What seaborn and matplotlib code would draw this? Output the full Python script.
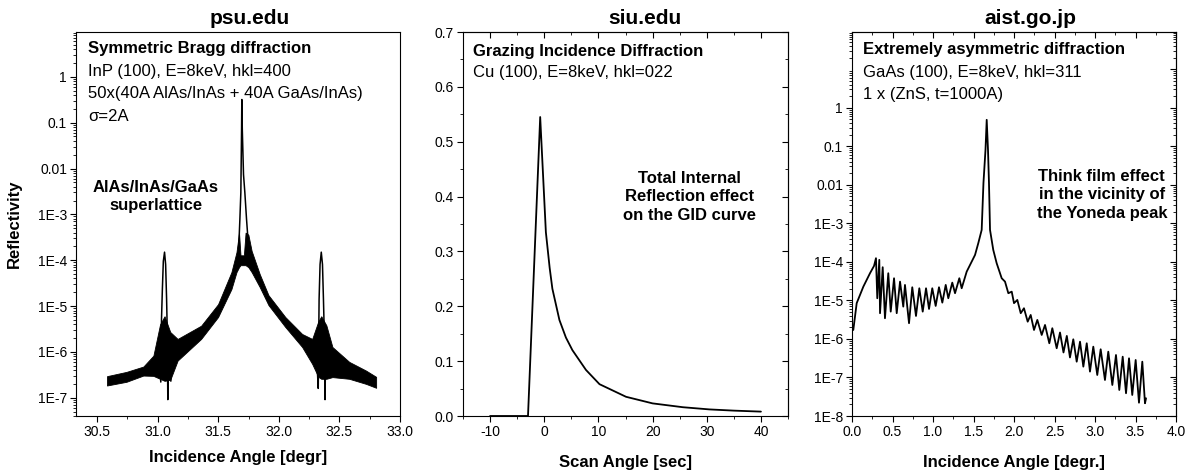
import numpy as np
import matplotlib
matplotlib.use("Agg")
import matplotlib.pyplot as plt
import seaborn as sns
from matplotlib.ticker import (FixedLocator, MultipleLocator, LogLocator,
                               FuncFormatter, FormatStrFormatter, NullFormatter)

# ---- panel 1: psu.edu, symmetric Bragg (oscillation band + spikes) ----
band_x = [30.581, 30.742, 30.881, 30.964, 31.019, 31.056, 31.103, 31.164, 31.358, 31.498,
          31.608, 31.650, 31.671, 31.683, 31.711, 31.725, 31.748, 31.775, 31.842, 31.914,
          32.053, 32.192, 32.275, 32.325, 32.350, 32.392, 32.442, 32.581, 32.719, 32.803]
band_hi = [2.96e-7, 3.67e-7, 4.79e-7, 8.3e-7, 4.0e-6, 6.0e-6, 2.72e-6, 1.92e-6, 3.73e-6, 1.10e-5,
           5.48e-5, 1.5e-4, 4.0e-4, 1.28e-4, 1.28e-4, 4.0e-4, 3.6e-4, 1.6e-4, 4.96e-5, 1.73e-5,
           5.77e-6, 2.46e-6, 1.92e-6, 4.6e-6, 6.0e-6, 3.8e-6, 1.28e-6, 6.06e-7, 3.92e-7, 2.86e-7]
band_lo = [1.85e-7, 2.23e-7, 3.05e-7, 3.0e-7, 2.59e-7, 2.34e-7, 2.46e-7, 6.47e-7, 1.92e-6, 5.77e-6,
           2.34e-5, 5.5e-5, 7.05e-5, 7.79e-5, 7.79e-5, 7.79e-5, 7.05e-5, 5.5e-5, 2.59e-5, 1.05e-5,
           3.49e-6, 1.28e-6, 5.48e-7, 2.86e-7, 2.59e-7, 2.59e-7, 2.82e-7, 2.59e-7, 2.01e-7, 1.65e-7]

sat1_x = [31.004, 31.025, 31.031, 31.038, 31.046, 31.056, 31.065, 31.073, 31.078, 31.083,
          31.088, 31.100, 31.108, 31.117]
sat1_y = [1.5e-6, 2.2e-7, 5.2e-6, 2.3e-5, 9.5e-5, 1.5e-4, 8.1e-5, 1.4e-5, 3.2e-6, 9.1e-8,
          1.5e-6, 1.9e-6, 2.3e-7, 1.5e-6]
sat2_x = [32.292, 32.317, 32.325, 32.332, 32.340, 32.350, 32.360, 32.368, 32.375, 32.381,
          32.387, 32.400, 32.417]
sat2_y = [1.5e-6, 4.3e-7, 1.6e-7, 1.4e-5, 8.1e-5, 1.5e-4, 8.1e-5, 1.4e-5, 2.5e-6, 9.1e-8,
          1.5e-6, 1.9e-6, 1.5e-6]
main_x = [31.664, 31.678, 31.686, 31.692, 31.694, 31.698, 31.708, 31.719, 31.733, 31.758]
main_y = [9.5e-5, 7.8e-4, 3.0e-3, 0.071, 0.32, 0.071, 7.4e-3, 3.0e-3, 7.8e-4, 9.5e-5]

# ---- panel 2: siu.edu, grazing incidence diffraction ----
gid_x = [-10, -3.0, -0.75, 0.3, 1.0, 1.5, 2.8, 4.0, 5.2, 7.7,
         10.2, 15.1, 20.0, 25.6, 30.5, 35.0, 40.0]
gid_y = [0.0, 0.0, 0.545, 0.335, 0.27, 0.232, 0.175, 0.143, 0.12, 0.084,
         0.058, 0.035, 0.023, 0.016, 0.012, 0.0098, 0.008]

# ---- panel 3: aist.go.jp, extremely asymmetric diffraction ----
ga_x = [0.016, 0.058, 0.140, 0.222, 0.272, 0.296, 0.312, 0.337, 0.346, 0.379,
        0.407, 0.448, 0.478, 0.519, 0.552, 0.593, 0.633, 0.654, 0.704, 0.744,
        0.790, 0.831, 0.873, 0.914, 0.951, 0.991, 1.033, 1.074, 1.115, 1.157,
        1.189, 1.238, 1.272, 1.325, 1.354, 1.416, 1.478, 1.519, 1.559, 1.601,
        1.623, 1.648, 1.663, 1.679, 1.691, 1.704, 1.744, 1.786, 1.848, 1.889,
        1.930, 1.972, 2.000, 2.041, 2.083, 2.123, 2.169, 2.206, 2.247, 2.288,
        2.342, 2.383, 2.436, 2.473, 2.527, 2.568, 2.611, 2.652, 2.691, 2.732,
        2.774, 2.815, 2.856, 2.898, 2.938, 2.979, 3.028, 3.070, 3.123, 3.164,
        3.214, 3.259, 3.300, 3.342, 3.383, 3.420, 3.460, 3.502, 3.543, 3.584,
        3.617, 3.630]
ga_y = [1.71e-6, 8.5e-6, 2.28e-5, 5.08e-5, 7.87e-5, 1.25e-4, 1.14e-5, 1.13e-4, 4.66e-6, 7.28e-5,
        3.45e-6, 5.08e-5, 5.12e-6, 3.77e-5, 4.66e-6, 3.08e-5, 6.90e-6, 2.53e-5, 2.56e-6, 2.20e-5,
        3.95e-6, 2.07e-5, 5.12e-6, 2.07e-5, 6.01e-6, 2.07e-5, 7.20e-6, 2.20e-5, 8.77e-6, 2.53e-5,
        1.14e-5, 2.90e-5, 1.54e-5, 3.77e-5, 2.07e-5, 5.60e-5, 1.02e-4, 1.52e-4, 3.06e-4, 6.78e-4,
        1.13e-2, 8.1e-2, 0.488, 8.1e-2, 1.13e-2, 6.78e-4, 2.05e-4, 9.25e-5, 3.77e-5, 3.08e-5,
        1.54e-5, 1.69e-5, 8.5e-6, 1.03e-5, 4.66e-6, 6.27e-6, 2.81e-6, 4.20e-6, 1.71e-6, 3.12e-6,
        1.27e-6, 2.31e-6, 7.73e-7, 1.90e-6, 5.73e-7, 1.47e-6, 4.46e-7, 1.20e-6, 3.31e-7, 9.8e-7,
        2.57e-7, 8.5e-7, 1.91e-7, 7.73e-7, 1.42e-7, 6.31e-7, 1.16e-7, 5.40e-7, 8.6e-8, 4.68e-7,
        6.38e-8, 3.84e-7, 4.73e-8, 3.47e-7, 3.89e-8, 3.15e-7, 3.51e-8, 2.85e-7, 2.21e-8, 2.57e-7,
        2.14e-8, 2.88e-8]

sns.set_theme(style="ticks")
plt.rcParams["font.family"] = ["Liberation Sans", "DejaVu Sans"]
plt.rcParams["axes.unicode_minus"] = False
plt.rcParams["axes.linewidth"] = 0.8
plt.rcParams["text.color"] = "black"
plt.rcParams["axes.labelcolor"] = "black"
plt.rcParams["xtick.color"] = "black"
plt.rcParams["ytick.color"] = "black"


def log_label(v, pos):
    if v >= 0.01:
        return "%g" % v
    return "1E%d" % round(np.log10(v))


def style_axis(ax):
    ax.tick_params(which="both", direction="out", labelsize=10, colors="black", pad=2.5)
    ax.tick_params(which="major", length=4, width=0.8)
    ax.tick_params(which="minor", length=2.5, width=0.6)
    for s in ax.spines.values():
        s.set_color("black")


def inner_ticks(ax):
    top = ax.secondary_xaxis("top")
    right = ax.secondary_yaxis("right")
    for sa in (top, right):
        sa.tick_params(which="both", direction="in", labelsize=0, colors="black")
        sa.tick_params(which="major", length=4, width=0.8)
        sa.tick_params(which="minor", length=2.5, width=0.6)
    return top, right


fig = plt.figure(figsize=(11.9, 4.74), dpi=100)
H = 474.0
W = 1190.0
ax1 = fig.add_axes([76 / W, (H - 416) / H, 324 / W, 384 / H])
ax2 = fig.add_axes([463 / W, (H - 416) / H, 325 / W, 384 / H])
ax3 = fig.add_axes([852 / W, (H - 416) / H, 324 / W, 384 / H])

bold = dict(fontsize=12, fontweight="bold", color="black")
reg = dict(fontsize=12, color="black")
ttl = dict(fontsize=15, fontweight="bold", color="black", ha="center", va="baseline")

# panel 1
ax1.set_yscale("log")
ax1.fill_between(band_x, band_lo, band_hi, color="black", lw=0.6)
sns.lineplot(x=sat1_x, y=sat1_y, ax=ax1, color="black", lw=1.1, estimator=None, sort=False)
sns.lineplot(x=sat2_x, y=sat2_y, ax=ax1, color="black", lw=1.1, estimator=None, sort=False)
sns.lineplot(x=main_x, y=main_y, ax=ax1, color="black", lw=1.1, estimator=None, sort=False)
ax1.set_xlim(30.325, 33.0)
ax1.set_ylim(4e-8, 9.5)
ax1.xaxis.set_major_locator(MultipleLocator(0.5))
ax1.xaxis.set_minor_locator(MultipleLocator(0.25))
ax1.xaxis.set_major_formatter(FormatStrFormatter("%.1f"))
ax1.yaxis.set_major_locator(FixedLocator([10.0 ** k for k in range(-7, 1)]))
ax1.yaxis.set_minor_locator(LogLocator(base=10, subs=np.arange(2, 10), numticks=30))
ax1.yaxis.set_major_formatter(FuncFormatter(log_label))
ax1.yaxis.set_minor_formatter(NullFormatter())
style_axis(ax1)
ax1.set_xlabel("Incidence Angle [degr]", **bold)
ax1.xaxis.set_label_coords(0.5, -0.088)
ax1.set_ylabel("Reflectivity", **bold)
ax1.yaxis.set_label_coords(-0.167, 0.5)
ax1.text(0.537, 1.02, "psu.edu", transform=ax1.transAxes, **ttl)
ax1.text(0.037, 0.958, "Symmetric Bragg diffraction", transform=ax1.transAxes, va="center", **bold)
ax1.text(0.037, 0.898, "InP (100), E=8keV, hkl=400", transform=ax1.transAxes, va="center", **reg)
ax1.text(0.037, 0.839, "50x(40A AlAs/InAs + 40A GaAs/InAs)", transform=ax1.transAxes,
         va="center", **reg)
ax1.text(0.037, 0.781, "\u03c3=2A", transform=ax1.transAxes, va="center", **reg)
ax1.text(0.247, 0.572, "AlAs/InAs/GaAs\nsuperlattice", transform=ax1.transAxes,
         ha="center", va="center", linespacing=1.3, **bold)

# panel 2
sns.lineplot(x=gid_x, y=gid_y, ax=ax2, color="black", lw=1.3, estimator=None, sort=False)
ax2.set_xlim(-15, 45)
ax2.set_ylim(0, 0.7)
ax2.xaxis.set_major_locator(MultipleLocator(10))
ax2.xaxis.set_minor_locator(MultipleLocator(5))
ax2.yaxis.set_major_locator(MultipleLocator(0.1))
ax2.yaxis.set_minor_locator(MultipleLocator(0.05))
ax2.yaxis.set_major_formatter(FormatStrFormatter("%.1f"))
style_axis(ax2)
t2, r2 = inner_ticks(ax2)
t2.xaxis.set_major_locator(MultipleLocator(10))
t2.xaxis.set_minor_locator(MultipleLocator(5))
t2.xaxis.set_major_formatter(NullFormatter())
r2.yaxis.set_major_locator(MultipleLocator(0.1))
r2.yaxis.set_minor_locator(MultipleLocator(0.05))
r2.yaxis.set_major_formatter(NullFormatter())
ax2.set_xlabel("Scan Angle [sec]", **bold)
ax2.xaxis.set_label_coords(0.5, -0.1016)
ax2.set_ylabel("")
ax2.text(0.56, 1.02, "siu.edu", transform=ax2.transAxes, **ttl)
ax2.text(0.03, 0.949, "Grazing Incidence Diffraction", transform=ax2.transAxes, va="center", **bold)
ax2.text(0.03, 0.894, "Cu (100), E=8keV, hkl=022", transform=ax2.transAxes, va="center", **reg)
ax2.text(0.698, 0.571, "Total Internal\nReflection effect\non the GID curve",
         transform=ax2.transAxes, ha="center", va="center", linespacing=1.3, **bold)

# panel 3
ax3.set_yscale("log")
sns.lineplot(x=ga_x, y=ga_y, ax=ax3, color="black", lw=1.3, estimator=None, sort=False)
ax3.set_xlim(0, 4)
ax3.set_ylim(1e-8, 93)
ax3.xaxis.set_major_locator(MultipleLocator(0.5))
ax3.xaxis.set_minor_locator(MultipleLocator(0.25))
ax3.xaxis.set_major_formatter(FormatStrFormatter("%.1f"))
ax3.yaxis.set_major_locator(FixedLocator([10.0 ** k for k in range(-8, 1)]))
ax3.yaxis.set_minor_locator(LogLocator(base=10, subs=np.arange(2, 10), numticks=30))
ax3.yaxis.set_major_formatter(FuncFormatter(log_label))
ax3.yaxis.set_minor_formatter(NullFormatter())
style_axis(ax3)
t3, r3 = inner_ticks(ax3)
t3.xaxis.set_major_locator(MultipleLocator(0.5))
t3.xaxis.set_minor_locator(MultipleLocator(0.25))
t3.xaxis.set_major_formatter(NullFormatter())
r3.yaxis.set_major_locator(FixedLocator([10.0 ** k for k in range(-8, 2)]))
r3.yaxis.set_minor_locator(LogLocator(base=10, subs=np.arange(2, 10), numticks=30))
r3.yaxis.set_major_formatter(NullFormatter())
r3.yaxis.set_minor_formatter(NullFormatter())
ax3.set_xlabel("Incidence Angle [degr.]", **bold)
ax3.xaxis.set_label_coords(0.5, -0.1016)
ax3.set_ylabel("")
ax3.text(0.549, 1.02, "aist.go.jp", transform=ax3.transAxes, **ttl)
ax3.text(0.033, 0.955, "Extremely asymmetric diffraction", transform=ax3.transAxes,
         va="center", **bold)
ax3.text(0.033, 0.894, "GaAs (100), E=8keV, hkl=311", transform=ax3.transAxes, va="center", **reg)
ax3.text(0.033, 0.836, "1 x (ZnS, t=1000A)", transform=ax3.transAxes, va="center", **reg)
ax3.text(0.771, 0.576, "Think film effect\nin the vicinity of\nthe Yoneda peak",
         transform=ax3.transAxes, ha="center", va="center", linespacing=1.3, **bold)

fig.savefig("out.png", dpi=100)
